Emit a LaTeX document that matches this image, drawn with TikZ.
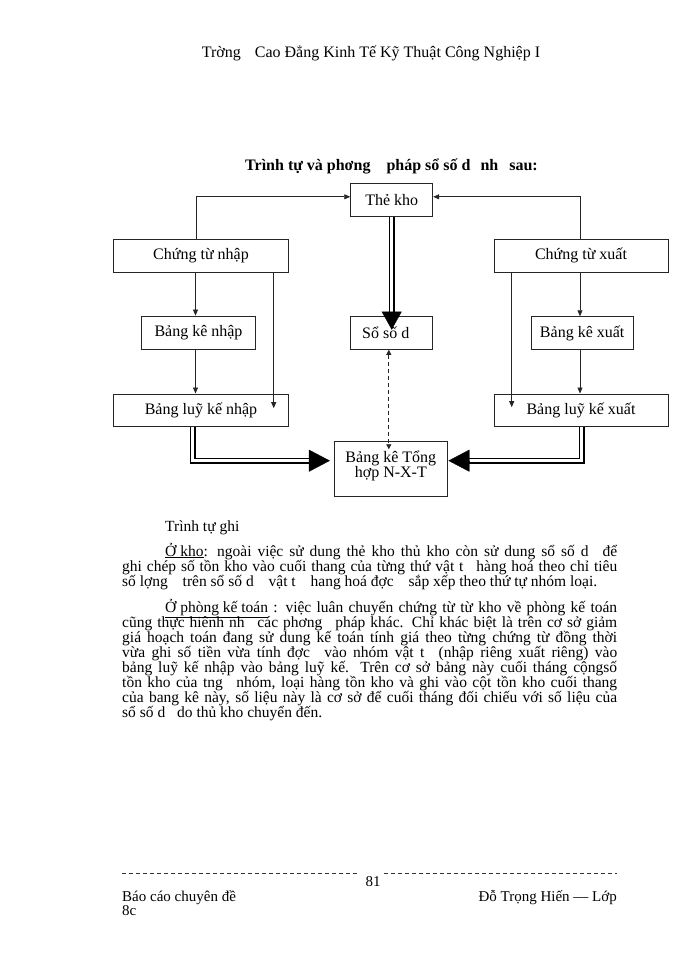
\documentclass[tikz,border=0pt]{standalone}
\usepackage{fontspec}
\setmainfont{Liberation Serif}
\usetikzlibrary{arrows.meta,calc}
\begin{document}
\begin{tikzpicture}[x=1pt,y=-1pt,
  box/.style={draw=black!85, line width=0.9pt, inner sep=0pt, font=\fontsize{16}{16}\selectfont},
  arr/.style={draw=black!85, line width=0.7pt, -{Triangle[length=6pt,width=5pt]}},
  darr/.style={draw=black!85, line width=0.7pt, dash pattern=on 4pt off 3pt, {Triangle[length=5pt,width=5pt]}-{Triangle[length=5pt,width=5pt]}},
  dbl/.style={draw=black, line width=1.8pt, double=white, double distance=2.8pt},
  headV/.style={draw=black, line width=0.3pt, -{Triangle[length=18pt,width=20pt]}},
  headH/.style={draw=black, line width=0.3pt, -{Triangle[length=21pt,width=22pt]}},
  para/.style={anchor=base west, inner sep=0pt, font=\fontsize{15.5}{15}\selectfont},
  ftext/.style={inner sep=0pt, font=\fontsize{15}{15}\selectfont},
  footline/.style={draw=black!80, line width=0.6pt, dash pattern=on 4pt off 3pt},
]
\fill[white] (0,0) rectangle (700,960);

% header and title
\node[anchor=base, inner sep=0pt, font=\fontsize{16}{16}\selectfont] (hdr) at (371,58)
  {Trờng\hspace{10pt} Cao Đẳng Kinh Tế Kỹ Thuật Công Nghiệp I};
\node[anchor=base west, inner sep=0pt, font=\bfseries\fontsize{16}{16}\selectfont] (title) at (245,171)
  {Trình tự và phơng\hspace{12pt} pháp sổ số d\hspace{6pt} nh\hspace{7pt} sau:};

% boxes
\node[box, minimum width=82pt, minimum height=32.5pt] (tk) at (391.7,199.8) {Thẻ kho};
\node[box, minimum width=175.4pt, minimum height=32.7pt] (ctn) at (201,255.7) {Chứng từ nhập};
\node[box, minimum width=174pt, minimum height=32.7pt] (ctx) at (581,255.7) {Chứng từ xuất};
\node[box, minimum width=113.6pt, minimum height=33.3pt] (bkn) at (198.5,332.7) {Bảng kê nhập};
\node[box, minimum width=82pt, minimum height=33.3pt] (sdd) at (391.7,332.7) {Sổ số d\hspace{12pt}\mbox{}};
\node[box, minimum width=102.3pt, minimum height=32.6pt] (bkx) at (582.2,333) {Bảng kê xuất};
\node[box, minimum width=175.4pt, minimum height=32.5pt] (lkn) at (201,410.2) {Bảng luỹ kế nhập};
\node[box, minimum width=174pt, minimum height=32.5pt] (lkx) at (581,410.2) {Bảng luỹ kế xuất};
\node[box, minimum width=113pt, minimum height=55pt] (th) at (390.8,469.2)
  {\parbox[c][55pt][c]{113pt}{\centering\fontsize{16}{14.5}\selectfont Bảng kê Tổng\\hợp N-X-T\par\vspace*{7pt}}};

% thin arrows
\draw[arr] ($(ctn.north)+(-5,0)$) |- ($(tk.west)+(0,-3)$);
\draw[arr] ($(ctx.north)+(-1,0)$) |- ($(tk.east)+(0,-3)$);
\coordinate (c1) at ($(bkn.north)+(-3,0)$);
\coordinate (c2) at ($(bkn.south)+(-3,0)$);
\draw[arr] (c1 |- ctn.south) -- (c1);
\draw[arr] (c2) -- (c2 |- lkn.north);
\coordinate (e1) at ($(lkn.center)+(72.7,-2)$);
\draw[arr] (e1 |- ctn.south) -- (e1);
\coordinate (e2) at ($(lkx.center)+(-69.3,-3)$);
\draw[arr] (e2 |- ctx.south) -- (e2);
\coordinate (c3) at ($(bkx.north)+(-2.2,0)$);
\coordinate (c4) at ($(bkx.south)+(-2.2,0)$);
\draw[arr] (c3 |- ctx.south) -- (c3);
\draw[arr] (c4) -- (c4 |- lkx.north);

% dashed two-headed
\coordinate (d1) at ($(th.north)+(-2,8)$);
\draw[darr] (d1 |- sdd.south) -- (d1);

% big double arrows
\coordinate (tA) at ($(sdd.north)+(0,14)$);
\coordinate (bA) at ($(tA)+(0,-18)$);
\draw[dbl] (tk.south) -- (bA);
\draw[headV] (bA) -- (tA);

\coordinate (tL) at ($(th.west)+(-4,-8.5)$);
\coordinate (bL) at ($(tL)+(-21,0)$);
\coordinate (sL) at ($(lkn.south)+(-8.2,0)$);
\draw[dbl] (sL) |- (bL);
\draw[headH] (bL) -- (tL);

\coordinate (tR) at ($(th.east)+(0.7,-8.5)$);
\coordinate (bR) at ($(tR)+(21,0)$);
\coordinate (sR) at ($(lkx.south)+(0.7,0)$);
\draw[dbl] (sR) |- (bR);
\draw[headH] (bR) -- (tR);

% body text
\node[para] (p0) at (165,531) {Trình tự ghi};
\node[para] (p1a) at (165,556) {\hbox to 452pt{\underline{Ở kho}: ngoài việc sử dung thẻ kho thủ kho còn sử dung sổ số d\hspace{8pt} để}};
\node[para] (p1b) at (122,571) {\hbox to 495pt{ghi chép số tồn kho vào cuối thang của từng thứ vật t\hspace{8pt} hàng hoá theo chỉ tiêu}};
\node[para] (p1c) at (122,586) {số lợng\hspace{11pt} trên sổ số d\hspace{11pt} vật t\hspace{11pt} hang hoá đợc\hspace{11pt} sắp xếp theo thứ tự nhóm loại.};

\node[para] (p2a) at (165,612) {\hbox to 452pt{\underline{Ở phòng kế toán} : việc luân chuyển chứng từ từ kho về phòng kế toán}};
\node[para] (p2b) at (122,627) {\hbox to 495pt{cũng thực hiênh nh\hspace{8pt} các phơng\hspace{8pt} pháp khác. Chỉ khác biệt là trên cơ sở giảm}};
\node[para] (p2c) at (122,642) {\hbox to 495pt{giá hoạch toán đang sử dung kế toán tính giá theo từng chứng từ đồng thời}};
\node[para] (p2d) at (122,657) {\hbox to 495pt{vừa ghi số tiền vừa tính đợc\hspace{8pt} vào nhóm vật t\hspace{8pt} (nhập riêng xuất riêng) vào}};
\node[para] (p2e) at (122,672) {\hbox to 495pt{bảng luỹ kế nhập vào bảng luỹ kế. Trên cơ sở bảng này cuối tháng cộngsố}};
\node[para] (p2f) at (122,687) {\hbox to 495pt{tồn kho của tng\hspace{8pt} nhóm, loại hàng tồn kho và ghi vào cột tồn kho cuối thang}};
\node[para] (p2g) at (122,702) {\hbox to 495pt{của bang kê này, số liệu này là cơ sở để cuối tháng đối chiếu với số liệu của}};
\node[para] (p2h) at (122,717) {sổ số d\hspace{8pt} do thủ kho chuyển đến.};

% footer
\coordinate (fl1) at (122,873);
\coordinate (fl2) at (358,873);
\coordinate (fr1) at (384,873);
\coordinate (fr2) at (617,873);
\draw[footline] (fl1) -- (fl2);
\draw[footline] (fr1) -- (fr2);
\node[ftext, anchor=base] (pg) at (373,886) {81};
\node[ftext, anchor=base west] (f1) at (122,901) {Báo cáo chuyên đề};
\node[ftext, anchor=base west] (f2) at (122,915) {8c};
\node[ftext, anchor=base east] (f3) at (617,901) {Đỗ Trọng Hiến — Lớp};
\end{tikzpicture}
\end{document}
